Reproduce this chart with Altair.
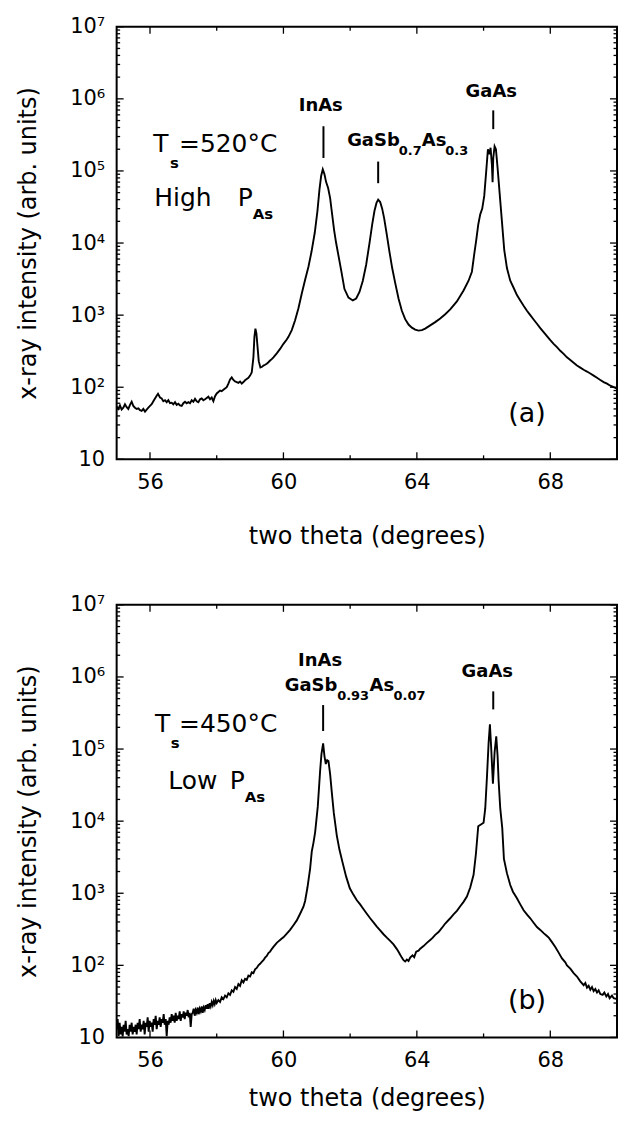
import altair as alt
import pandas as pd

# ---------------- data: panel (a) ----------------
a_x = [55.00, 55.05, 55.10, 55.15, 55.20, 55.25, 55.30, 55.35, 55.40, 55.45, 55.50, 55.55, 55.60, 55.65,
       55.70, 55.75, 55.80, 55.85, 55.90, 55.95, 56.00, 56.05, 56.10, 56.15, 56.20, 56.24, 56.30, 56.35,
       56.40, 56.45, 56.50, 56.55, 56.60, 56.65, 56.70, 56.75, 56.80, 56.85, 56.90, 56.95, 57.00, 57.05,
       57.10, 57.15, 57.20, 57.25, 57.30, 57.35, 57.40, 57.45, 57.50, 57.55, 57.60, 57.65, 57.70, 57.75,
       57.80, 57.85, 57.90, 57.95, 58.00, 58.05, 58.10, 58.15, 58.20, 58.25, 58.30, 58.35, 58.40, 58.45,
       58.50, 58.55, 58.60, 58.65, 58.70, 58.75, 58.80, 58.85, 58.90, 58.95, 59.00, 59.05, 59.10, 59.13,
       59.16, 59.19, 59.22, 59.26, 59.31, 59.36, 59.40, 59.45, 59.50, 59.55, 59.60, 59.65, 59.70, 59.80,
       59.90, 60.00, 60.10, 60.15, 60.25, 60.35, 60.45, 60.55, 60.65, 60.75, 60.84, 60.94, 61.02, 61.08,
       61.13, 61.18, 61.23, 61.28, 61.34, 61.40, 61.46, 61.52, 61.58, 61.63, 61.73, 61.83, 61.95, 62.08,
       62.18, 62.28, 62.38, 62.48, 62.58, 62.66, 62.73, 62.79, 62.84, 62.90, 62.96, 63.02, 63.10, 63.18,
       63.26, 63.35, 63.45, 63.55, 63.65, 63.75, 63.85, 63.95, 64.05, 64.15, 64.25, 64.40, 64.55, 64.70,
       64.85, 65.00, 65.20, 65.40, 65.55, 65.65, 65.72, 65.78, 65.84, 65.90, 65.96, 66.02, 66.08, 66.13,
       66.17, 66.21, 66.25, 66.27, 66.29, 66.33, 66.37, 66.42, 66.48, 66.55, 66.62, 66.70, 66.80, 66.90,
       67.00, 67.10, 67.20, 67.30, 67.40, 67.50, 67.60, 67.70, 67.80, 67.90, 68.00, 68.10, 68.20, 68.30,
       68.40, 68.50, 68.60, 68.70, 68.80, 68.90, 69.00, 69.10, 69.20, 69.30, 69.40, 69.50, 69.60, 69.70,
       69.80, 69.90, 70.00]
a_y = [54, 50, 56, 49, 52, 58, 53, 50, 57, 63, 55, 52, 50, 51,
       48, 47, 50, 46, 49, 52, 55, 58, 64, 70, 76, 81, 72, 70,
       64, 66, 62, 66, 60, 61, 58, 62, 57, 59, 56, 55, 60, 63,
       60, 62, 60, 66, 63, 69, 64, 62, 68, 70, 66, 68, 71, 74,
       68, 72, 64, 75, 82, 86, 90, 88, 92, 96, 100, 112, 128, 137,
       126, 120, 118, 115, 120, 112, 118, 125, 130, 135, 145, 160, 260, 500,
       650, 560, 380, 230, 188, 192, 200, 205, 212, 222, 235, 245, 260, 295,
       340, 400, 460, 500, 620, 850, 1250, 2000, 3100, 4700, 7500, 14000, 28000, 55000,
       85000, 105000, 90000, 70000, 58000, 42000, 25000, 15000, 10000, 7500, 4200, 2300, 1750, 1600,
       1700, 2100, 3000, 5000, 10000, 18000, 28000, 36000, 40000, 37000, 30000, 22000, 13000, 7500,
       4500, 2800, 1700, 1150, 880, 740, 670, 630, 610, 620, 650, 720, 800, 900,
       1030, 1200, 1550, 2200, 3000, 4000, 7000, 11000, 18000, 25000, 30000, 45000, 100000, 200000,
       170000, 210000, 120000, 70000, 150000, 220000, 200000, 110000, 50000, 20000, 8000, 4500, 3000, 2400,
       1900, 1600, 1350, 1150, 1000, 870, 760, 660, 580, 510, 450, 400, 360, 320,
       290, 260, 238, 218, 200, 187, 175, 165, 155, 145, 135, 126, 118, 112,
       105, 100, 96]

# ---------------- data: panel (b) ----------------
b_x = [55.00, 55.03, 55.06, 55.09, 55.12, 55.15, 55.18, 55.21, 55.24, 55.27, 55.30, 55.33, 55.36, 55.39,
       55.42, 55.45, 55.48, 55.51, 55.54, 55.57, 55.60, 55.63, 55.66, 55.69, 55.72, 55.75, 55.78, 55.81,
       55.84, 55.87, 55.90, 55.93, 55.96, 55.99, 56.02, 56.05, 56.08, 56.11, 56.14, 56.17, 56.20, 56.23,
       56.26, 56.29, 56.32, 56.35, 56.38, 56.41, 56.44, 56.47, 56.50, 56.53, 56.56, 56.59, 56.62, 56.65,
       56.68, 56.71, 56.74, 56.77, 56.80, 56.83, 56.86, 56.89, 56.92, 56.95, 56.98, 57.01, 57.04, 57.07,
       57.10, 57.13, 57.16, 57.19, 57.22, 57.25, 57.28, 57.31, 57.34, 57.37, 57.40, 57.43, 57.46, 57.49,
       57.52, 57.55, 57.58, 57.61, 57.64, 57.67, 57.70, 57.73, 57.76, 57.79, 57.82, 57.85, 57.88, 57.91,
       57.94, 57.97, 58.00, 58.05, 58.10, 58.15, 58.20, 58.25, 58.30, 58.35, 58.40, 58.45, 58.50, 58.55,
       58.60, 58.65, 58.70, 58.75, 58.80, 58.85, 58.90, 58.95, 59.00, 59.05, 59.10, 59.15, 59.20, 59.25,
       59.30, 59.35, 59.40, 59.45, 59.50, 59.55, 59.60, 59.65, 59.70, 59.75, 59.80, 59.85, 59.90, 59.95,
       60.00, 60.10, 60.20, 60.30, 60.40, 60.50, 60.60, 60.65, 60.72, 60.80, 60.85, 60.90, 60.95, 61.03,
       61.10, 61.14, 61.19, 61.23, 61.27, 61.31, 61.35, 61.40, 61.45, 61.51, 61.60, 61.68, 61.77, 61.88,
       61.99, 62.10, 62.20, 62.30, 62.37, 62.50, 62.60, 62.70, 62.80, 62.90, 63.00, 63.10, 63.20, 63.30,
       63.40, 63.45, 63.50, 63.55, 63.60, 63.65, 63.70, 63.75, 63.80, 63.87, 63.92, 63.98, 64.05, 64.10,
       64.20, 64.30, 64.40, 64.47, 64.55, 64.65, 64.75, 64.85, 65.00, 65.10, 65.20, 65.30, 65.40, 65.50,
       65.60, 65.70, 65.77, 65.84, 65.92, 66.00, 66.05, 66.10, 66.15, 66.19, 66.23, 66.28, 66.33, 66.38,
       66.42, 66.45, 66.50, 66.56, 66.61, 66.70, 66.80, 66.88, 67.00, 67.10, 67.20, 67.31, 67.40, 67.50,
       67.60, 67.70, 67.80, 67.90, 67.96, 68.05, 68.15, 68.25, 68.35, 68.45, 68.50, 68.60, 68.70, 68.80,
       68.90, 69.00, 69.05, 69.10, 69.15, 69.20, 69.25, 69.30, 69.35, 69.40, 69.45, 69.50, 69.57, 69.62,
       69.68, 69.73, 69.78, 69.85, 69.90, 70.00]
b_y = [13, 18, 10.5, 16, 11, 14, 10.3, 15, 12, 17, 11, 13, 10.4, 15,
       12, 16, 11, 14, 12, 15, 11, 16, 13, 18, 12, 15, 13, 17,
       11, 16, 14, 19, 12, 17, 14, 16, 12, 18, 15, 20, 13, 17,
       15, 19, 14, 18, 16, 21, 15, 18, 10.4, 17, 15, 19, 16, 21,
       17, 20, 16, 22, 17, 20, 18, 23, 17, 21, 19, 23, 18, 22,
       20, 24, 19, 22, 14, 21, 22, 25, 20, 24, 22, 26, 21, 25,
       23, 27, 22, 26, 24, 28, 25, 29, 25, 30, 27, 31, 28, 32,
       29, 33, 30, 33, 31, 36, 34, 38, 36, 41, 39, 45, 43, 50,
       47, 55, 52, 62, 58, 65, 63, 72, 70, 80, 78, 88, 92, 100,
       105, 112, 118, 128, 135, 148, 155, 168, 180, 192, 205, 215, 225, 235,
       245, 275, 310, 360, 420, 520, 650, 780, 1200, 2200, 3800, 5000, 7000, 16000,
       50000, 85000, 120000, 80000, 62000, 70000, 68000, 45000, 25000, 13000, 6300, 4000, 2700, 1700,
       1170, 950, 800, 700, 630, 520, 450, 395, 345, 305, 270, 242, 218, 195,
       168, 154, 140, 128, 118, 113, 120, 115, 128, 138, 130, 155, 160, 170,
       185, 205, 225, 240, 265, 290, 330, 380, 450, 510, 570, 660, 760, 900,
       1200, 1800, 3500, 8500, 9000, 9500, 15000, 40000, 120000, 220000, 100000, 33000, 90000, 150000,
       80000, 37000, 15000, 8000, 3000, 1900, 1300, 1050, 850, 700, 580, 500, 450, 390,
       340, 310, 280, 255, 240, 210, 180, 150, 125, 110, 100, 90, 78, 70,
       60, 53, 57, 49, 52, 46, 50, 44, 47, 42, 45, 40, 39, 42,
       37, 40, 35, 38, 35, 34]

# ---------------- axes ----------------
x_major = [56, 60, 64, 68]
x_minor = [58, 62, 66]
y_major = [10, 100, 1000, 10000, 100000, 1000000, 10000000]
y_minor = [m * 10 ** e for e in range(1, 7) for m in range(2, 10)]

W, H = 502, 434
FONT = "DejaVu Sans"
xs = alt.Scale(domain=[55, 70], nice=False, zero=False)
ys = alt.Scale(type="log", domain=[10, 1e7], nice=False)

label_expr = ("datum.value < 50 ? '10' : '10' + "
              "['','','\u00b2','\u00b3','\u2074','\u2075','\u2076','\u2077'][round(log(datum.value)/LN10)]")


def make_axes(title_pad):
    common = dict(ticks=False, domain=False, grid=False, labelFlush=False,
                  labelOverlap=False, labelPadding=12, labelFont=FONT, titleFont=FONT,
                  labelFontSize=21, titleFontSize=24, titleFontWeight="normal",
                  labelColor="black", titleColor="black")
    xa = alt.Axis(values=x_major, title="two theta (degrees)", format="d",
                  titlePadding=title_pad, **common)
    ya = alt.Axis(values=y_major, labelExpr=label_expr,
                  title="x-ray intensity (arb. units)", titlePadding=29, **common)
    return xa, ya


def panel(xv, yv, big, subs, peaks_c, peaks_l, small_subs, tag, markers, title_pad):
    xa, ya = make_axes(title_pad)

    def X(field):
        return alt.X(field, scale=xs, axis=xa)

    def Y(field):
        return alt.Y(field, scale=ys, axis=ya)

    df = pd.DataFrame({"x": xv, "y": yv})
    line = alt.Chart(df).mark_line(color="black", strokeWidth=1.9, clip=True).encode(
        x=X("x:Q"), y=Y("y:Q"))

    layers = [line]
    # inward ticks on all four sides
    for vals, ln in ((y_major, 7), (y_minor, 3.5)):
        base = alt.Chart(pd.DataFrame({"v": vals})).mark_rule(color="black", strokeWidth=1.3)
        layers.append(base.encode(y=Y("v:Q"), x=alt.value(0), x2=alt.value(ln)))
        layers.append(base.encode(y=Y("v:Q"), x=alt.value(W), x2=alt.value(W - ln)))
    for vals, ln in ((x_major, 7), (x_minor, 4)):
        base = alt.Chart(pd.DataFrame({"v": vals})).mark_rule(color="black", strokeWidth=1.3)
        layers.append(base.encode(x=X("v:Q"), y=alt.value(H), y2=alt.value(H - ln)))
        layers.append(base.encode(x=X("v:Q"), y=alt.value(0), y2=alt.value(ln)))

    def text_layer(items, size, weight="normal", align="left"):
        d = pd.DataFrame(items, columns=["t", "x", "y"])
        return alt.Chart(d).mark_text(
            align=align, baseline="middle", font=FONT, fontSize=size,
            fontWeight=weight, color="black"
        ).encode(x=X("x:Q"), y=Y("y:Q"), text="t:N")

    layers += [text_layer(big, 25),
               text_layer(subs, 15, "bold"),
               text_layer(peaks_c, 18, "bold", "center"),
               text_layer(peaks_l, 18, "bold"),
               text_layer(small_subs, 13, "bold"),
               text_layer(tag, 27, "normal", "center")]

    md = pd.DataFrame(markers, columns=["x", "y", "y2"])
    layers.append(alt.Chart(md).mark_rule(color="black", strokeWidth=2).encode(
        x=X("x:Q"), y=Y("y:Q"), y2="y2:Q"))
    return alt.layer(*layers).properties(width=W, height=H)


top = panel(
    a_x, a_y,
    big=[("T", 56.10, 10 ** 5.38), ("=520\u00b0C", 56.87, 10 ** 5.38),
         ("High", 56.13, 10 ** 4.62), ("P", 58.63, 10 ** 4.62)],
    subs=[("s", 56.60, 10 ** 5.11), ("As", 59.08, 10 ** 4.40)],
    peaks_c=[("InAs", 61.12, 10 ** 5.90), ("GaAs", 66.23, 10 ** 6.10)],
    peaks_l=[("GaSb", 61.91, 10 ** 5.42), ("As", 64.15, 10 ** 5.42)],
    small_subs=[("0.7", 63.46, 10 ** 5.28), ("0.3", 64.85, 10 ** 5.28)],
    tag=[("(a)", 67.30, 10 ** 1.63)],
    markers=[(61.20, 10 ** 5.18, 10 ** 5.62), (62.84, 10 ** 4.83, 10 ** 5.13),
             (66.29, 10 ** 5.58, 10 ** 5.84)],
    title_pad=32,
)

bottom = panel(
    b_x, b_y,
    big=[("T", 56.15, 10 ** 5.35), ("=450\u00b0C", 56.87, 10 ** 5.35),
         ("Low", 56.55, 10 ** 4.55), ("P", 58.39, 10 ** 4.55)],
    subs=[("s", 56.62, 10 ** 5.09), ("As", 58.84, 10 ** 4.33)],
    peaks_c=[("InAs", 61.10, 10 ** 6.22), ("GaAs", 66.11, 10 ** 6.07)],
    peaks_l=[("GaSb", 60.04, 10 ** 5.88), ("As", 62.58, 10 ** 5.88)],
    small_subs=[("0.93", 61.61, 10 ** 5.73), ("0.07", 63.30, 10 ** 5.73)],
    tag=[("(b)", 67.30, 10 ** 1.50)],
    markers=[(61.19, 10 ** 5.25, 10 ** 5.61), (66.29, 10 ** 5.55, 10 ** 5.80)],
    title_pad=16,
)

chart = alt.vconcat(top, bottom, spacing=44).properties(
    padding={"left": 7, "top": 5, "right": 0, "bottom": 0},
    background="white",
).configure_view(stroke="black", strokeWidth=2)

chart.save("out.html", embed_options={"renderer": "svg", "actions": False})
